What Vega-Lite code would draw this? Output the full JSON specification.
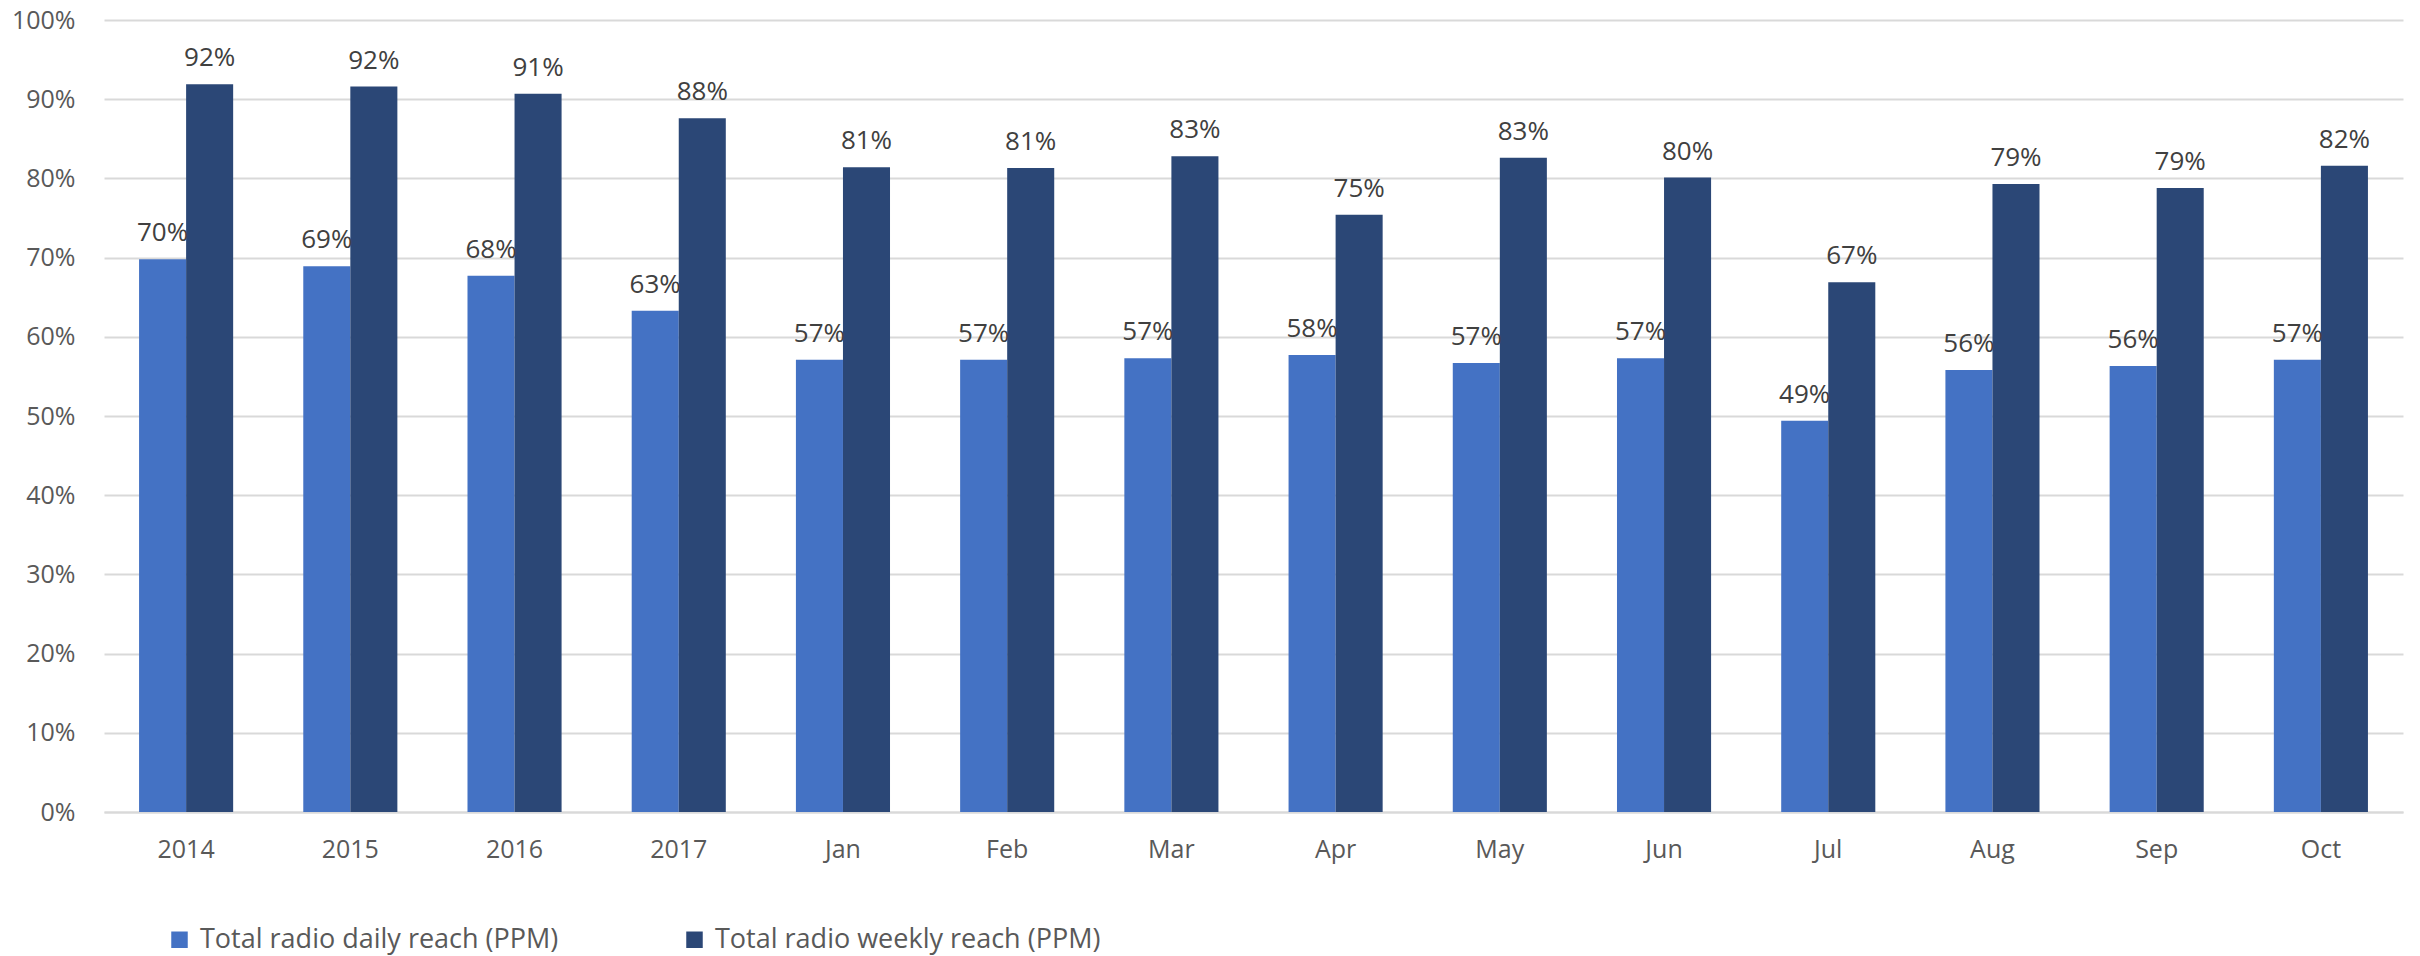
{
  "$schema": "https://vega.github.io/schema/vega-lite/v6.json",
  "width": 2299,
  "height": 792,
  "autosize": {"type": "none"},
  "padding": {"left": 104, "top": 20, "right": 17, "bottom": 144},
  "config": {"view": {"stroke": null}, "font": "Open Sans"},
  "data": {
    "values": [
      {"period": "2014", "series": "Total radio daily reach (PPM)", "value": 0.698},
      {"period": "2014", "series": "Total radio weekly reach (PPM)", "value": 0.919},
      {"period": "2015", "series": "Total radio daily reach (PPM)", "value": 0.689},
      {"period": "2015", "series": "Total radio weekly reach (PPM)", "value": 0.916},
      {"period": "2016", "series": "Total radio daily reach (PPM)", "value": 0.677},
      {"period": "2016", "series": "Total radio weekly reach (PPM)", "value": 0.907},
      {"period": "2017", "series": "Total radio daily reach (PPM)", "value": 0.633},
      {"period": "2017", "series": "Total radio weekly reach (PPM)", "value": 0.876},
      {"period": "Jan", "series": "Total radio daily reach (PPM)", "value": 0.571},
      {"period": "Jan", "series": "Total radio weekly reach (PPM)", "value": 0.814},
      {"period": "Feb", "series": "Total radio daily reach (PPM)", "value": 0.571},
      {"period": "Feb", "series": "Total radio weekly reach (PPM)", "value": 0.813},
      {"period": "Mar", "series": "Total radio daily reach (PPM)", "value": 0.573},
      {"period": "Mar", "series": "Total radio weekly reach (PPM)", "value": 0.828},
      {"period": "Apr", "series": "Total radio daily reach (PPM)", "value": 0.577},
      {"period": "Apr", "series": "Total radio weekly reach (PPM)", "value": 0.754},
      {"period": "May", "series": "Total radio daily reach (PPM)", "value": 0.567},
      {"period": "May", "series": "Total radio weekly reach (PPM)", "value": 0.826},
      {"period": "Jun", "series": "Total radio daily reach (PPM)", "value": 0.573},
      {"period": "Jun", "series": "Total radio weekly reach (PPM)", "value": 0.801},
      {"period": "Jul", "series": "Total radio daily reach (PPM)", "value": 0.494},
      {"period": "Jul", "series": "Total radio weekly reach (PPM)", "value": 0.669},
      {"period": "Aug", "series": "Total radio daily reach (PPM)", "value": 0.558},
      {"period": "Aug", "series": "Total radio weekly reach (PPM)", "value": 0.793},
      {"period": "Sep", "series": "Total radio daily reach (PPM)", "value": 0.563},
      {"period": "Sep", "series": "Total radio weekly reach (PPM)", "value": 0.788},
      {"period": "Oct", "series": "Total radio daily reach (PPM)", "value": 0.571},
      {"period": "Oct", "series": "Total radio weekly reach (PPM)", "value": 0.816}
    ]
  },
  "encoding": {
    "x": {
      "field": "period",
      "type": "nominal",
      "sort": null,
      "scale": {"paddingInner": 0.427, "paddingOuter": 0.2135},
      "axis": {
        "title": null,
        "labelAngle": 0,
        "labelFontSize": 25,
        "labelColor": "#595959",
        "labelPadding": 25,
        "ticks": false,
        "domain": true,
        "domainColor": "#d9d9d9",
        "domainWidth": 2,
        "grid": false
      }
    },
    "xOffset": {
      "field": "series",
      "type": "nominal",
      "sort": ["Total radio daily reach (PPM)", "Total radio weekly reach (PPM)"]
    },
    "y": {
      "field": "value",
      "type": "quantitative",
      "scale": {"domain": [0, 1], "nice": false},
      "axis": {
        "title": null,
        "values": [0, 0.1, 0.2, 0.3, 0.4, 0.5, 0.6, 0.7, 0.8, 0.9, 1],
        "format": ".0%",
        "labelFontSize": 25,
        "labelColor": "#595959",
        "labelPadding": 29,
        "ticks": false,
        "domain": false,
        "grid": true,
        "gridColor": "#d9d9d9",
        "gridWidth": 2
      }
    }
  },
  "layer": [
    {
      "mark": {"type": "bar"},
      "encoding": {
        "color": {
          "field": "series",
          "type": "nominal",
          "sort": ["Total radio daily reach (PPM)", "Total radio weekly reach (PPM)"],
          "scale": {"range": ["#4472C4", "#2B4776"]},
          "legend": {
            "title": null,
            "orient": "none",
            "direction": "horizontal",
            "legendX": 62,
            "legendY": 906,
            "padding": 0,
            "symbolType": "square",
            "symbolSize": 272,
            "symbolStrokeWidth": 0,
            "labelFontSize": 27,
            "labelColor": "#595959",
            "labelOffset": 7,
            "columnPadding": 122,
            "labelLimit": 600
          }
        }
      }
    },
    {
      "mark": {"type": "text", "baseline": "alphabetic", "dy": -18, "fontSize": 26, "color": "#404040"},
      "encoding": {
        "text": {"field": "value", "type": "quantitative", "format": ".0%"}
      }
    }
  ]
}
